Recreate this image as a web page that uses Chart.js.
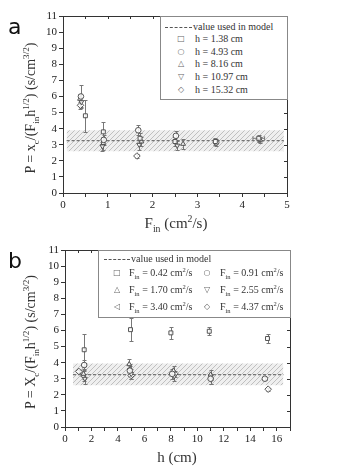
<!DOCTYPE html>
<html>
<head>
<meta charset="utf-8">
<script src="https://cdn.jsdelivr.net/npm/chart.js@4.4.0/dist/chart.umd.min.js"></script>
<style>
  body { margin: 0; background: #fff; }
  #page { position: relative; width: 338px; height: 473px; overflow: hidden; font-family: "Liberation Serif", serif; color: #333; }
  .panel { position: absolute; left: 0; }
  .lbl { position: absolute; white-space: nowrap; }
  .txt { position: absolute; white-space: nowrap; font-size: 10px; line-height: 12px; transform: translateY(-50%); color: #333; }
  .mk { position: absolute; font-family: "DejaVu Sans", sans-serif; font-size: 8px; line-height: 10px; transform: translate(-50%, -50%); color: #666; }
  .dash { position: absolute; border-top: 1px dashed #555; height: 0; }
  .box { position: absolute; border: 1px solid #888; background: #fff; box-sizing: border-box; }
  sub, sup { font-size: 65%; line-height: 0; }
  .title { font-size: 15px; transform: translate(-50%, -50%); }
  .ytitle { font-size: 14px; transform: translate(-50%, -50%) rotate(-90deg); }
  .plabel { font-family: "DejaVu Sans", sans-serif; font-size: 22px; color: #111; }
</style>
</head>
<body>
<div id="page">
  <div class="panel" style="top:0"><canvas id="chartA" width="338" height="236"></canvas></div>
  <div class="panel" style="top:236px"><canvas id="chartB" width="338" height="237"></canvas></div>

  <div class="lbl plabel" style="left:8px; top:14px">a</div>
  <div class="lbl plabel" style="left:8px; top:248px">b</div>

  <div class="lbl title" style="left:176px; top:223px">F<sub>in</sub> (cm<sup>2</sup>/s)</div>
  <div class="lbl ytitle" style="left:31px; top:108px">P = x<sub>c</sub>/(F<sub>in</sub>h<sup>1/2</sup>) (s/cm<sup>3/2</sup>)</div>
  <div class="lbl title" style="left:177px; top:457px">h (cm)</div>
  <div class="lbl ytitle" style="left:31px; top:342px">P = X<sub>c</sub>/(F<sub>in</sub>h<sup>1/2</sup>) (s/cm<sup>3/2</sup>)</div>

  <div id="legendA"></div>
  <div id="legendB"></div>
</div>

<script>
// ---- panel a : P against F_in, one series per height h ----
const aLabels = ["h = 1.38 cm", "h = 4.93 cm", "h = 8.16 cm", "h = 10.97 cm", "h = 15.32 cm"];

const aH138X = [0.50, 0.90, 1.72, 2.50, 3.40, 4.37];
const aH138Y = [4.8, 3.8, 3.4, 3.2, 3.2, 3.4];
const aH138E = [1.0, 0.6, 0.3, 0.3, 0.2, 0.2];
const aH138XE = [0, 0, 0, 0, 0, 0.13];

const aH493X = [0.40, 0.91, 1.68, 2.52, 3.42];
const aH493Y = [6.0, 3.3, 3.9, 3.55, 3.15];
const aH493E = [0.7, 0.3, 0.3, 0.3, 0.2];

const aH816X = [0.38, 0.90, 1.75, 2.68, 4.40];
const aH816Y = [5.85, 3.1, 3.2, 3.05, 3.3];
const aH816E = [0.3, 0.4, 0.3, 0.3, 0.2];

const aH1097X = [0.41, 0.88, 1.70, 2.55];
const aH1097Y = [5.65, 2.9, 3.0, 2.95];
const aH1097E = [0.3, 0.3, 0.3, 0.3];

const aH1532X = [0.39, 1.65];
const aH1532Y = [5.45, 2.3];
const aH1532E = [0.2, 0.1];

const aBandX = [0.08, 4.93];
const aBandLow = 2.6;
const aBandHigh = 3.9;
const aModel = 3.25;

// ---- panel b : P against h, one series per inflow F_in ----
const bLabels = ["0.42", "0.91", "1.70", "2.55", "3.40", "4.37"];

const bF042X = [1.45, 4.95, 8.0, 10.9, 15.3];
const bF042Y = [4.8, 6.05, 5.85, 5.95, 5.5];
const bF042E = [1.0, 0.7, 0.35, 0.25, 0.25];

const bF091X = [1.45, 4.9, 8.1, 11.0, 15.1];
const bF091Y = [3.85, 3.5, 3.3, 3.0, 3.0];
const bF091E = [0.3, 0.3, 0.3, 0.3, 0.1];

const bF170X = [1.4, 4.85, 8.2, 11.0];
const bF170Y = [3.3, 3.9, 3.5, 3.25];
const bF170E = [0.3, 0.3, 0.3, 0.3];

const bF255X = [1.5, 5.0, 8.25, 11.05];
const bF255Y = [3.0, 3.3, 3.15, 2.95];
const bF255E = [0.3, 0.3, 0.3, 0.3];

const bF340X = [1.4, 4.9];
const bF340Y = [3.15, 3.6];
const bF340E = [0.3, 0.3];

const bF437X = [1.05, 5.0, 8.3, 15.35];
const bF437Y = [3.45, 3.2, 3.3, 2.35];
const bF437E = [0.1, 0.2, 0.2, 0.1];

const bBandX = [0.6, 16.5];
const bBandLow = 2.6;
const bBandHigh = 3.95;
const bModel = 3.25;

// marker shapes, shared by both panels
const shapes = [
    { style: "rect", rot: 0, glyph: "\u25A1" },
    { style: "circle", rot: 0, glyph: "\u25CB" },
    { style: "triangle", rot: 0, glyph: "\u25B3" },
    { style: "triangle", rot: 180, glyph: "\u25BD" },
    { style: "triangle", rot: 270, glyph: "\u25C1" },
    { style: "rectRot", rot: 0, glyph: "\u25C7" }
];

function pts(xs, ys) {
    return xs.map((x, i) => ({ x: x, y: ys[i] }));
}

function hatch() {
    const c = document.createElement("canvas");
    c.width = 5; c.height = 5;
    const g = c.getContext("2d");
    g.fillStyle = "#efefef";
    g.fillRect(0, 0, 5, 5);
    g.strokeStyle = "#c0c0c0";
    g.lineWidth = 1;
    g.beginPath();
    g.moveTo(0, 5); g.lineTo(5, 0);
    g.moveTo(-1, 1); g.lineTo(1, -1);
    g.moveTo(4, 6); g.lineTo(6, 4);
    g.stroke();
    return g.createPattern(c, "repeat");
}

function series(xs, ys, err, shape, xErr) {
    return {
        data: pts(xs, ys),
        yErr: err,
        xErr: xErr,
        pointStyle: shape.style,
        rotation: shape.rot,
        pointRadius: shape.style === "rectRot" ? 3.3 : 2.8,
        borderColor: "#555",
        borderWidth: 1,
        backgroundColor: "rgba(255,255,255,0.85)",
        order: 0
    };
}

function bandSets(bx, low, high, model) {
    return [
        {
            type: "line",
            data: pts(bx, [low, low]),
            borderWidth: 0,
            pointRadius: 0,
            fill: false,
            order: 10
        },
        {
            type: "line",
            data: pts(bx, [high, high]),
            borderWidth: 0,
            pointRadius: 0,
            fill: "-1",
            backgroundColor: hatch(),
            order: 9
        },
        {
            type: "line",
            data: pts(bx, [model, model]),
            borderColor: "#555",
            borderWidth: 1,
            borderDash: [3, 2],
            pointRadius: 0,
            fill: false,
            order: 5
        }
    ];
}

// error bars, drawn just after the dashed model line so markers sit on top
const errorBars = {
    id: "errorBars",
    afterDatasetDraw(chart, args) {
        if (args.index !== 2) return;
        const ctx = chart.ctx;
        const xs = chart.scales.x;
        const ys = chart.scales.y;
        ctx.save();
        ctx.strokeStyle = "#777";
        ctx.lineWidth = 1;
        chart.data.datasets.forEach(ds => {
            if (!ds.yErr) return;
            ds.data.forEach((p, i) => {
                const px = Math.round(xs.getPixelForValue(p.x)) + 0.5;
                const py = ys.getPixelForValue(p.y);
                const e = ds.yErr[i];
                ctx.beginPath();
                if (e) {
                    const t = Math.round(ys.getPixelForValue(p.y + e)) + 0.5;
                    const b = Math.round(ys.getPixelForValue(p.y - e)) + 0.5;
                    ctx.moveTo(px, t); ctx.lineTo(px, b);
                    ctx.moveTo(px - 2, t); ctx.lineTo(px + 2, t);
                    ctx.moveTo(px - 2, b); ctx.lineTo(px + 2, b);
                }
                const ex = ds.xErr ? ds.xErr[i] : 0;
                if (ex) {
                    const l = xs.getPixelForValue(p.x - ex);
                    const r = xs.getPixelForValue(p.x + ex);
                    ctx.moveTo(l, py); ctx.lineTo(r, py);
                    ctx.moveTo(l, py - 2); ctx.lineTo(l, py + 2);
                    ctx.moveTo(r, py - 2); ctx.lineTo(r, py + 2);
                }
                ctx.stroke();
            });
        });
        ctx.restore();
    }
};

// box frame with inward ticks on top and right
const frame = {
    id: "frame",
    afterDraw(chart) {
        const ctx = chart.ctx;
        const a = chart.chartArea;
        ctx.save();
        ctx.strokeStyle = "#333";
        ctx.lineWidth = 1;
        ctx.beginPath();
        ctx.rect(Math.round(a.left) + 0.5, Math.round(a.top) + 0.5,
            Math.round(a.right - a.left), Math.round(a.bottom - a.top));
        chart.scales.x.ticks.forEach(t => {
            const px = Math.round(chart.scales.x.getPixelForValue(t.value)) + 0.5;
            ctx.moveTo(px, a.top); ctx.lineTo(px, a.top + 3);
        });
        chart.scales.y.ticks.forEach(t => {
            const py = Math.round(chart.scales.y.getPixelForValue(t.value)) + 0.5;
            ctx.moveTo(a.right, py); ctx.lineTo(a.right - 3, py);
        });
        ctx.stroke();
        ctx.restore();
    }
};

function axes(xMax, xStep, xMajor, leftW) {
    const tickFont = { family: "Liberation Serif", size: 11 };
    return {
        x: {
            type: "linear",
            min: 0,
            max: xMax,
            afterFit: s => { s.height = 25; },
            ticks: {
                stepSize: xStep,
                autoSkip: false,
                maxRotation: 0,
                color: "#222",
                font: tickFont,
                padding: 2,
                callback: v => (Math.abs(v / xMajor - Math.round(v / xMajor)) < 1e-6 ? v : "")
            },
            grid: { drawOnChartArea: false, tickLength: 4, tickColor: "#333" },
            border: { color: "#333" }
        },
        y: {
            type: "linear",
            min: 0,
            max: 11,
            afterFit: s => { s.width = leftW; },
            ticks: { stepSize: 1, autoSkip: false, color: "#222", font: tickFont, padding: 2 },
            grid: { drawOnChartArea: false, tickLength: 4, tickColor: "#333" },
            border: { color: "#333" }
        }
    };
}

function makeChart(id, datasets, xMax, xStep, xMajor, leftW, pad) {
    return new Chart(document.getElementById(id), {
        type: "scatter",
        data: { datasets: datasets },
        options: {
            responsive: false,
            animation: false,
            layout: { padding: pad },
            plugins: { legend: { display: false }, tooltip: { enabled: false } },
            scales: axes(xMax, xStep, xMajor, leftW)
        },
        plugins: [errorBars, frame]
    });
}

// panel a
const setsA = bandSets(aBandX, aBandLow, aBandHigh, aModel).concat([
    series(aH138X, aH138Y, aH138E, shapes[0], aH138XE),
    series(aH493X, aH493Y, aH493E, shapes[1]),
    series(aH816X, aH816Y, aH816E, shapes[2]),
    series(aH1097X, aH1097Y, aH1097E, shapes[3]),
    series(aH1532X, aH1532Y, aH1532E, shapes[5])
]);
makeChart("chartA", setsA, 5, 0.5, 1, 63, { left: 0, right: 51, top: 16, bottom: 18 });

// panel b
const setsB = bandSets(bBandX, bBandLow, bBandHigh, bModel).concat([
    series(bF042X, bF042Y, bF042E, shapes[0]),
    series(bF091X, bF091Y, bF091E, shapes[1]),
    series(bF170X, bF170Y, bF170E, shapes[2]),
    series(bF255X, bF255Y, bF255E, shapes[3]),
    series(bF340X, bF340Y, bF340E, shapes[4]),
    series(bF437X, bF437Y, bF437E, shapes[5])
]);
makeChart("chartB", setsB, 17, 1, 2, 65, { left: 0, right: 48, top: 14, bottom: 21 });

// ---- legends as html text ----
function el(parent, cls, style, html) {
    const d = document.createElement("div");
    d.className = cls;
    d.setAttribute("style", style);
    d.innerHTML = html;
    parent.appendChild(d);
}

const legA = document.getElementById("legendA");
el(legA, "box", "left:160px; top:16px; width:128px; height:84px", "");
el(legA, "dash", "left:165px; top:27px; width:27px", "");
el(legA, "txt", "left:193px; top:27px", "value used in model");
const aGlyphs = [shapes[0], shapes[1], shapes[2], shapes[3], shapes[5]];
aLabels.forEach((lab, i) => {
    const y = 39 + i * 12.7;
    el(legA, "mk", "left:181px; top:" + y + "px", aGlyphs[i].glyph);
    el(legA, "txt", "left:195px; top:" + y + "px", lab);
});

const legB = document.getElementById("legendB");
el(legB, "box", "left:98px; top:250px; width:193px; height:68px", "");
el(legB, "dash", "left:104px; top:259px; width:26px", "");
el(legB, "txt", "left:131px; top:259px", "value used in model");
const bOrder = [0, 2, 4, 1, 3, 5];
bOrder.forEach((k, i) => {
    const col = i < 3 ? 0 : 1;
    const row = i % 3;
    const y = 273 + row * 17;
    const mx = col ? 207 : 117;
    const tx = col ? 220 : 129;
    el(legB, "mk", "left:" + mx + "px; top:" + y + "px", shapes[k].glyph);
    el(legB, "txt", "left:" + tx + "px; top:" + y + "px",
        "F<sub>in</sub> = " + bLabels[k] + " cm<sup>2</sup>/s");
});
</script>
</body>
</html>
